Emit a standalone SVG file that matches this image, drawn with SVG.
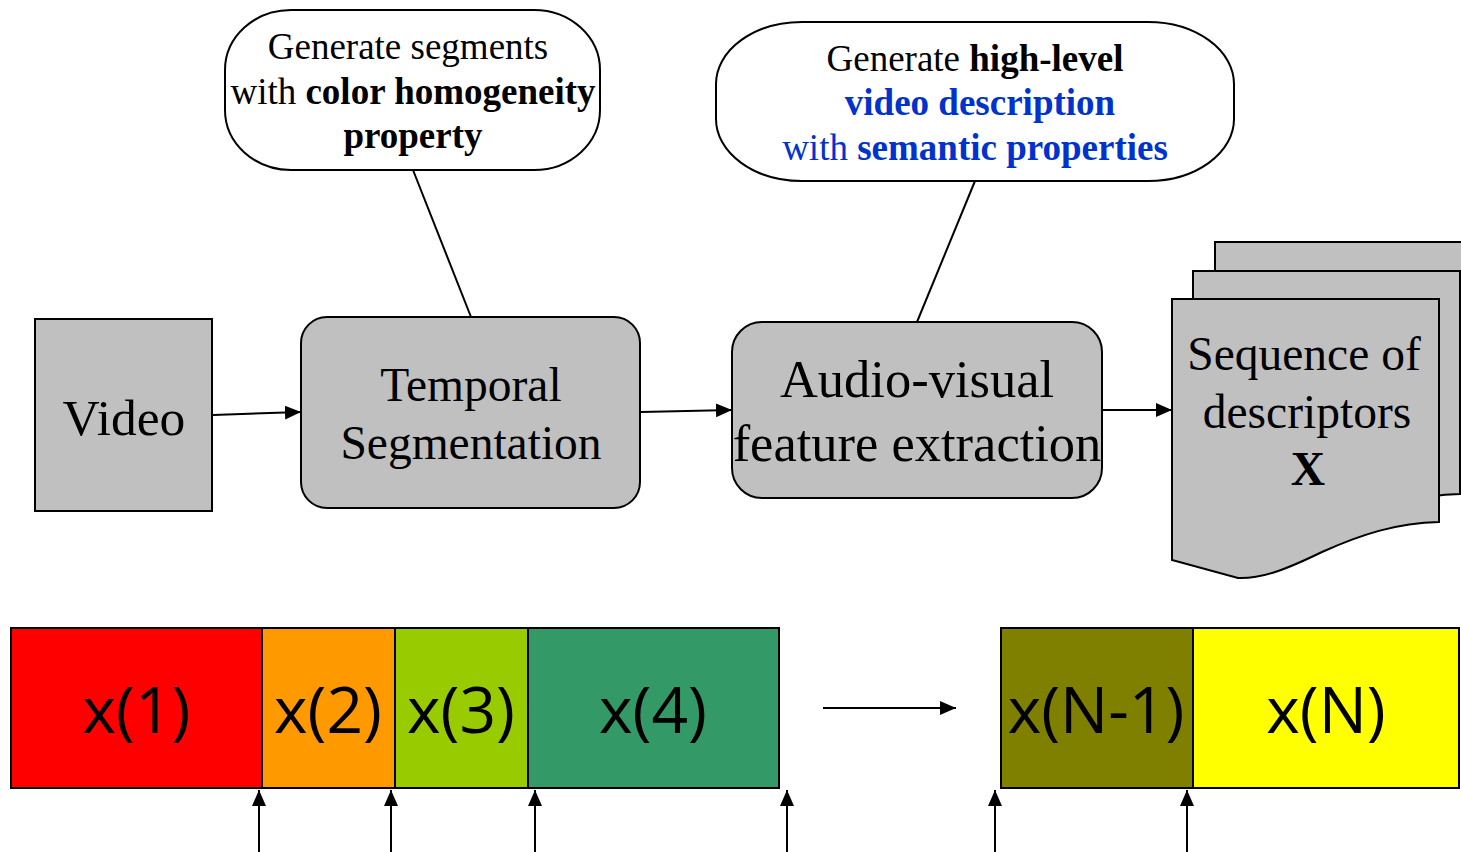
<svg xmlns="http://www.w3.org/2000/svg" width="1461" height="852" viewBox="0 0 1461 852">
  <style>
    .box { fill: #c0c0c0; stroke: #000; stroke-width: 2; }
    .callout { fill: #fff; stroke: #000; stroke-width: 2; }
    .serif { font-family: "Liberation Serif", "Times New Roman", serif; fill: #000; }
    .big { font-size: 47.5px; }
    .av { font-size: 52.5px; }
    .note { font-size: 37px; }
    .b { font-weight: bold; }
    .blue { fill: #0033cc; }
    .seg { stroke: #000; stroke-width: 2; }
    .segtxt { font-family: "Open Sans", "Noto Sans", sans-serif; font-size: 64px; fill: #000; }
    .conn { stroke: #000; stroke-width: 2; fill: none; }
    .arrow { marker-end: url(#head); }
  </style>
  <defs>
    <marker id="head" markerUnits="userSpaceOnUse" markerWidth="17" markerHeight="15" refX="16" refY="7" orient="auto">
      <path d="M0,0 L16,7 L0,14 Z" fill="#000"/>
    </marker>
    <!-- page outline with a wavy lower edge -->
    <path id="doc" d="M0,0 H267 V223 C225,224 190,235 150,253 C115,270 90,280 66,279 L0,261 Z"/>
  </defs>

  <rect width="1461" height="852" fill="#fff"/>

  <!-- connectors -->
  <g id="connectors">
    <line class="conn arrow" x1="213" y1="415" x2="301" y2="412"/>
    <line class="conn arrow" x1="641" y1="412" x2="732" y2="410"/>
    <line class="conn arrow" x1="1102" y1="410" x2="1172" y2="410"/>
    <line class="conn" x1="413" y1="170" x2="471" y2="317"/>
    <line class="conn" x1="975" y1="181" x2="917" y2="322"/>
    <line class="conn arrow" x1="823" y1="708" x2="956" y2="708"/>
    <line class="conn arrow" x1="259" y1="852" x2="259" y2="790"/>
    <line class="conn arrow" x1="391" y1="852" x2="391" y2="790"/>
    <line class="conn arrow" x1="535" y1="852" x2="535" y2="790"/>
    <line class="conn arrow" x1="787" y1="852" x2="787" y2="790"/>
    <line class="conn arrow" x1="995" y1="852" x2="995" y2="790"/>
    <line class="conn arrow" x1="1187" y1="852" x2="1187" y2="790"/>
  </g>

  <!-- input -->
  <g id="video">
    <rect class="box" x="35" y="319" width="177" height="192"/>
    <text class="serif" x="124" y="435" text-anchor="middle" font-size="51.5">Video</text>
  </g>

  <g id="temporal-segmentation">
    <rect class="box" x="301" y="317" width="339" height="191" rx="26" ry="26"/>
    <text class="serif big" x="471" y="401" text-anchor="middle">Temporal</text>
    <text class="serif big" x="471" y="459" text-anchor="middle">Segmentation</text>
  </g>

  <g id="feature-extraction">
    <rect class="box" x="732" y="322" width="370" height="176" rx="30" ry="30"/>
    <text class="serif av" x="917" y="397" text-anchor="middle">Audio-visual</text>
    <text class="serif av" x="917" y="461" text-anchor="middle">feature extraction</text>
  </g>

  <!-- stacked documents -->
  <g id="descriptors">
    <use href="#doc" class="box" transform="translate(1215,242)"/>
    <use href="#doc" class="box" transform="translate(1193,271)"/>
    <use href="#doc" class="box" transform="translate(1172,299)"/>
    <text class="serif big" x="1304" y="370" text-anchor="middle">Sequence of</text>
    <text class="serif big" x="1307" y="428" text-anchor="middle">descriptors</text>
    <text class="serif big b" x="1308" y="485" text-anchor="middle">X</text>
  </g>

  <!-- annotations -->
  <g id="note-segments">
    <rect class="callout" x="225" y="10" width="375" height="160" rx="66" ry="60"/>
    <text class="serif note" x="408" y="59" text-anchor="middle">Generate segments</text>
    <text class="serif note" x="413" y="104" text-anchor="middle">with <tspan class="b">color homogeneity</tspan></text>
    <text class="serif note b" x="413" y="148" text-anchor="middle">property</text>
  </g>

  <g id="note-semantics">
    <rect class="callout" x="716" y="22" width="518" height="159" rx="86" ry="62"/>
    <text class="serif note" x="975" y="71" text-anchor="middle">Generate <tspan class="b">high-level</tspan></text>
    <text class="serif note b blue" x="980" y="115" text-anchor="middle">video description</text>
    <text class="serif note blue" x="975" y="160" text-anchor="middle">with <tspan class="b">semantic properties</tspan></text>
  </g>

  <!-- descriptor sequence -->
  <g id="x1">
    <rect class="seg" x="11" y="628" width="251" height="160" fill="#ff0000"/>
    <text class="segtxt" x="136.5" y="733" text-anchor="middle">x(1)</text>
  </g>
  <g id="x2">
    <rect class="seg" x="262" y="628" width="133" height="160" fill="#ff9900"/>
    <text class="segtxt" x="328" y="733" text-anchor="middle">x(2)</text>
  </g>
  <g id="x3">
    <rect class="seg" x="395" y="628" width="133" height="160" fill="#99cc00"/>
    <text class="segtxt" x="461" y="733" text-anchor="middle">x(3)</text>
  </g>
  <g id="x4">
    <rect class="seg" x="528" y="628" width="251" height="160" fill="#339966"/>
    <text class="segtxt" x="653" y="733" text-anchor="middle">x(4)</text>
  </g>
  <g id="xN-1">
    <rect class="seg" x="1001" y="628" width="192" height="160" fill="#808000"/>
    <text class="segtxt" x="1096" y="733" text-anchor="middle">x(N-1)</text>
  </g>
  <g id="xN">
    <rect class="seg" x="1193" y="628" width="266" height="160" fill="#ffff00"/>
    <text class="segtxt" x="1326" y="733" text-anchor="middle">x(N)</text>
  </g>
</svg>
